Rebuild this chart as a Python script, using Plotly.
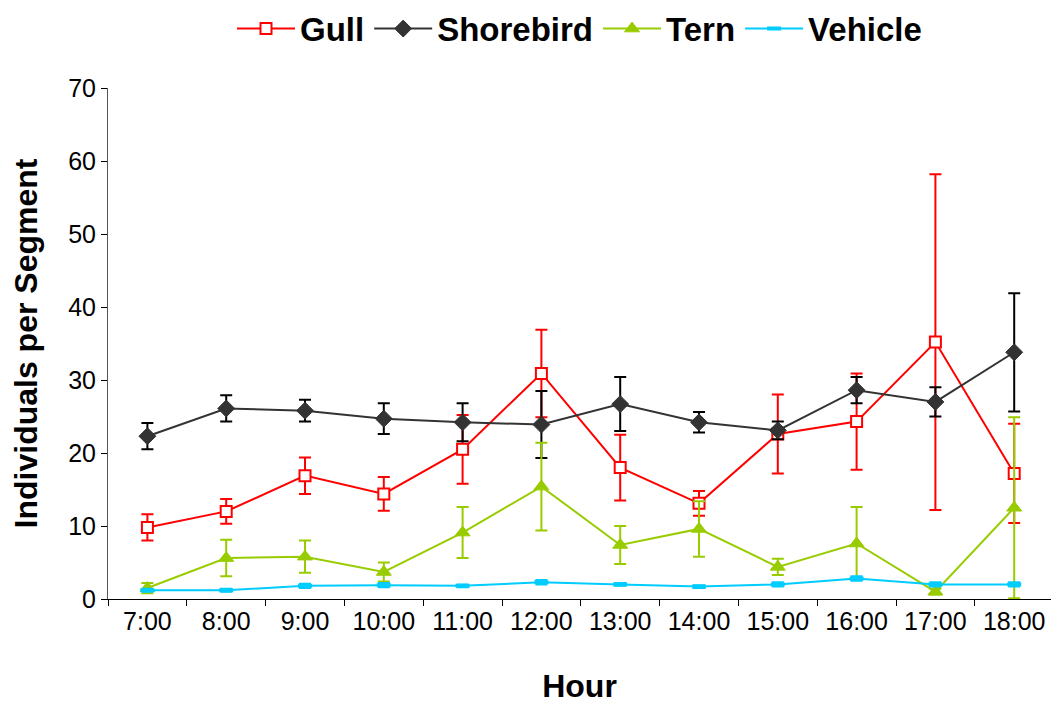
import plotly.graph_objects as go

hours = ["7:00", "8:00", "9:00", "10:00", "11:00", "12:00",
         "13:00", "14:00", "15:00", "16:00", "17:00", "18:00"]

gull = [9.8, 12.0, 16.9, 14.4, 20.5, 30.9, 18.0, 13.1, 22.6, 24.3, 35.2, 17.2]
gull_err = [1.8, 1.7, 2.5, 2.3, 4.7, 6.0, 4.5, 1.7, 5.4, 6.6, 23.0, 6.8]

shorebird = [22.3, 26.1, 25.8, 24.7, 24.2, 23.9, 26.7, 24.2, 23.1, 28.6, 27.0, 33.8]
shorebird_err = [1.8, 1.8, 1.5, 2.1, 2.6, 4.6, 3.7, 1.4, 1.2, 1.8, 2.0, 8.1]

tern = [1.5, 5.6, 5.8, 3.7, 9.1, 15.4, 7.4, 9.6, 4.4, 7.6, 1.0, 12.5]
tern_err = [0.7, 2.5, 2.2, 1.3, 3.5, 6.0, 2.6, 3.8, 1.1, 5.0, 0.4, 12.4]

vehicle = [1.2, 1.2, 1.8, 1.9, 1.8, 2.3, 2.0, 1.7, 2.0, 2.8, 2.0, 2.0]
vehicle_err = [0.2, 0.2, 0.3, 0.3, 0.2, 0.3, 0.2, 0.2, 0.3, 0.3, 0.3, 0.3]

FONT = "Liberation Sans, Arial, sans-serif"
TITLE_FONT = dict(size=32, family=FONT, weight="bold", color="black")
LEGEND_FONT = dict(size=33, family=FONT, weight="bold", color="black")

fig = go.Figure()


def add_series(name, values, errors, color, err_color, marker):
    fig.add_trace(go.Scatter(
        x=hours, y=values, name=name, mode="lines+markers",
        line=dict(color=color, width=2),
        marker=marker,
        error_y=dict(type="data", array=errors, visible=True,
                     color=err_color, thickness=2, width=6),
    ))


add_series("Gull", gull, gull_err, "#ff0000", "#ff0000",
           dict(symbol="square", size=11, color="white",
                line=dict(color="#ff0000", width=2)))
add_series("Shorebird", shorebird, shorebird_err, "#333333", "#000000",
           dict(symbol="diamond", size=13, color="#333333",
                line=dict(color="#333333", width=1)))
add_series("Tern", tern, tern_err, "#99cc00", "#99cc00",
           dict(symbol="triangle-up", size=13, color="#99cc00",
                line=dict(color="#99cc00", width=1)))
add_series("Vehicle", vehicle, vehicle_err, "#00ccff", "#00ccff",
           dict(symbol="line-ew", size=10, color="#00ccff",
                line=dict(color="#00ccff", width=4)))

fig.update_layout(
    width=1051, height=706,
    margin=dict(l=108, r=0, t=88, b=107),
    paper_bgcolor="white", plot_bgcolor="white",
    font=dict(family=FONT, color="black", size=25),
    showlegend=True,
    legend=dict(orientation="h", x=0.5, xanchor="center", y=1.171,
                yanchor="top", font=LEGEND_FONT,
                itemwidth=58, traceorder="normal"),
    xaxis=dict(
        type="category", range=[-0.5, 11.467],
        tickson="boundaries", ticks="outside", ticklen=6,
        tickcolor="black", showline=True, linecolor="black", linewidth=1,
        showgrid=False, zeroline=False,
        tickfont=dict(size=25),
        title=dict(text="Hour", standoff=40, font=TITLE_FONT),
    ),
    yaxis=dict(
        range=[0, 70], tickvals=[0, 10, 20, 30, 40, 50, 60, 70],
        ticks="outside", ticklen=6, tickcolor="black",
        showline=True, linecolor="#555555", linewidth=1,
        showgrid=False, zeroline=False,
        tickfont=dict(size=25),
        title=dict(text="Individuals per Segment", standoff=20,
                   font=TITLE_FONT),
    ),
)

fig.write_html("out.html")
